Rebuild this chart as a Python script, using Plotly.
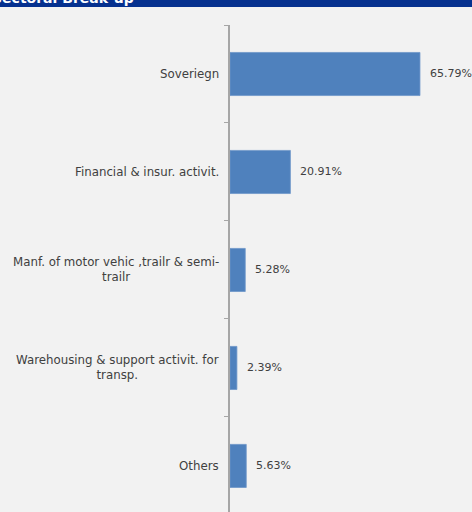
import plotly.graph_objects as go

# Sectoral exposure break-up (% of portfolio)
sectors = [
    "Soveriegn",
    "Financial & insur. activit.",
    "Manf. of motor vehic ,trailr & semi-<br>trailr",
    "Warehousing & support activit. for<br>transp.",
    "Others",
]
shares = [65.79, 20.91, 5.28, 2.39, 5.63]

bar_color = "#4F81BD"
text_color = "#404040"
bg = "#F2F2F2"
font_family = "DejaVu Sans"

fig = go.Figure(
    go.Bar(
        x=shares,
        y=list(range(len(sectors))),
        orientation="h",
        marker=dict(color=bar_color, line=dict(color="#6F97C9", width=0.8)),
        width=0.44,
        hoverinfo="skip",
    )
)

annotations = []
# value labels to the right of each bar
for i, v in enumerate(shares):
    annotations.append(dict(
        x=v, y=i, xref="x", yref="y", text=f"{v:.2f}%",
        showarrow=False, xanchor="left", xshift=8,
        font=dict(size=11, color=text_color, family=font_family),
    ))
# category labels, centred line by line
for i, s in enumerate(sectors):
    annotations.append(dict(
        x=0, y=i, xref="paper", yref="y", text=s,
        showarrow=False, xanchor="right", align="center", xshift=-9,
        font=dict(size=11.8, color=text_color, family=font_family),
    ))
# title text in the header band
annotations.append(dict(
    x=-1.04, y=1.0492, xref="paper", yref="paper", text="<b>Sectoral Break-up</b>",
    showarrow=False, xanchor="left", yanchor="bottom", yshift=-7,
    font=dict(size=14, color="white", family=font_family),
))

fig.update_layout(
    width=472, height=512,
    margin=dict(l=230, r=11, t=25, b=0),
    paper_bgcolor=bg, plot_bgcolor=bg,
    showlegend=False,
    xaxis=dict(range=[0, 80], visible=False, fixedrange=True),
    yaxis=dict(
        range=[4.47, -0.5], showgrid=False, zeroline=False,
        showticklabels=False,
        tickmode="array", tickvals=[-0.5, 0.5, 1.5, 2.5, 3.5, 4.5],
        ticks="outside", ticklen=4, tickcolor="#A6A6A6", tickwidth=1,
        showline=True, linecolor="#A6A6A6", linewidth=1.5,
    ),
    shapes=[dict(
        type="rect", xref="paper", yref="paper",
        x0=-1.1, x1=1.2, y0=1.0369, y1=1.08,
        fillcolor="#06318F", line=dict(width=0), layer="above",
    )],
    annotations=annotations,
)

fig.write_html("out.html")
